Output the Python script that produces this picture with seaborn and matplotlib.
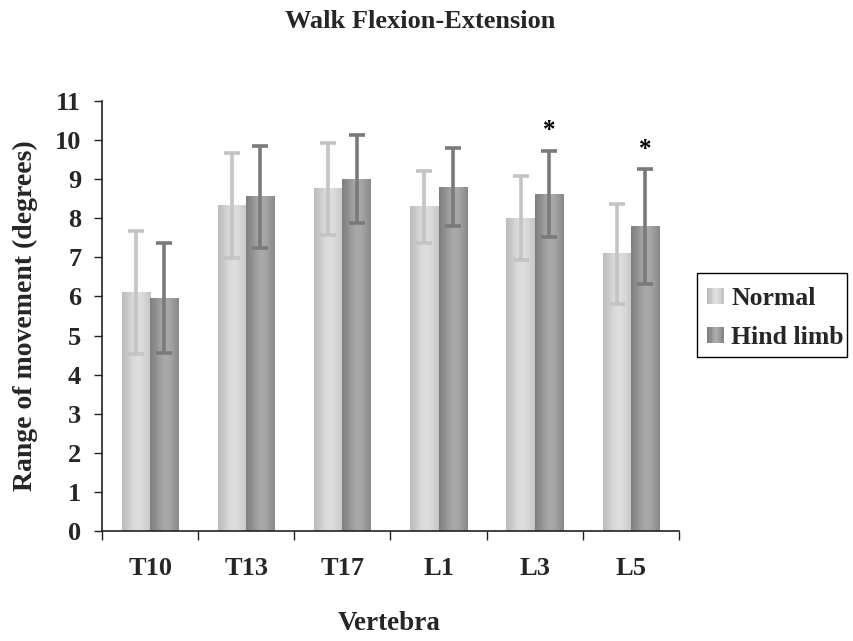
import numpy as np
import pandas as pd
import matplotlib
matplotlib.use("Agg")
import matplotlib.pyplot as plt
import matplotlib.patches as mpatches
from matplotlib.legend_handler import HandlerBase
import seaborn as sns

# Mean range of movement and standard deviation per vertebra
vertebrae = ["T10", "T13", "T17", "L1", "L3", "L5"]
groups = ["Normal", "Hind limb"]
normal_mean = [6.10, 8.33, 8.75, 8.30, 8.00, 7.09]
normal_sd = [1.57, 1.35, 1.18, 0.92, 1.07, 1.28]
hind_mean = [5.96, 8.55, 9.00, 8.80, 8.62, 7.78]
hind_sd = [1.40, 1.30, 1.13, 1.00, 1.10, 1.47]
significant = ["L3", "L5"]  # hind limb vs normal
y_ticks = list(range(0, 12))

sns.set_theme(style="white")
plt.rcParams["font.family"] = ["Liberation Serif", "DejaVu Serif"]
plt.rcParams["font.weight"] = "bold"

df = pd.DataFrame({
    "Vertebra": vertebrae * 2,
    "group": [groups[0]] * len(vertebrae) + [groups[1]] * len(vertebrae),
    "mean": normal_mean + hind_mean,
    "sd": normal_sd + hind_sd,
})

# Horizontal shading profiles for the cylinder-like bars
shade = {
    "Normal": ["#bdbdbd", "#c8c8c8", "#d6d6d6", "#dedede", "#dcdcdc", "#d2d2d2", "#c6c6c6"],
    "Hind limb": ["#7f7f7f", "#8c8c8c", "#9e9e9e", "#aaaaaa", "#a6a6a6", "#999999", "#888888"],
}
err_color = {"Normal": "#c4c4c4", "Hind limb": "#7a7a7a"}

FS = 19

fig = plt.figure(figsize=(8.54, 6.41), dpi=100)
W, H = 854, 641
ax = fig.add_axes([102 / W, 1 - 531 / H, 577 / W, 430 / H])

sns.barplot(data=df, x="Vertebra", y="mean", hue="group", order=vertebrae,
            hue_order=groups, errorbar=None, width=0.59, gap=0,
            palette={g: shade[g][3] for g in groups}, ax=ax, legend=False,
            linewidth=0)

def gradient_image(colors, n=64):
    rgb = np.array([matplotlib.colors.to_rgb(c) for c in colors])
    xs = np.linspace(0, 1, len(colors))
    xi = np.linspace(0, 1, n)
    img = np.stack([np.interp(xi, xs, rgb[:, k]) for k in range(3)], axis=-1)
    return img[np.newaxis, :, :]

bars = [p for p in ax.patches if isinstance(p, mpatches.Rectangle)]
bar_info = []
for i, p in enumerate(bars):
    g = groups[i // len(vertebrae)]
    x0, w, h = p.get_x(), p.get_width(), p.get_height()
    ax.imshow(gradient_image(shade[g]), extent=[x0, x0 + w, 0, h],
              aspect="auto", zorder=2, interpolation="bilinear")
    p.set_visible(False)
    bar_info.append((g, x0 + w / 2))

for gi, g in enumerate(groups):
    sub = df[df["group"] == g]
    xs = [bar_info[gi * len(vertebrae) + k][1] for k in range(len(vertebrae))]
    ax.errorbar(xs, sub["mean"], yerr=sub["sd"], fmt="none",
                ecolor=err_color[g], elinewidth=2.6, capsize=5.5,
                capthick=2.6, zorder=3)
    if g == "Hind limb":
        for k, v in enumerate(vertebrae):
            if v in significant:
                top = sub["mean"].iloc[k] + sub["sd"].iloc[k]
                ax.text(xs[k], top + 0.22, "*", ha="center", va="bottom",
                        fontsize=18, fontweight="bold", color="black")

ax.set_xlim(-0.5, len(vertebrae) - 0.5)
ax.set_ylim(0, 11)
ax.set_yticks(y_ticks)
ax.set_xticks(range(len(vertebrae)))
ax.set_xticks(np.arange(-0.5, len(vertebrae)), minor=True)
ax.tick_params(axis="x", which="major", length=0, pad=19, labelsize=FS)
ax.tick_params(axis="x", which="minor", length=6.5, width=1, color="#222222",
               direction="out", bottom=True)
ax.tick_params(axis="y", length=6, width=1, color="#222222", direction="out",
               left=True, labelsize=FS, pad=9)
for lab in ax.get_xticklabels() + ax.get_yticklabels():
    lab.set_fontweight("bold")

for s in ["top", "right"]:
    ax.spines[s].set_visible(False)
for s in ["left", "bottom"]:
    ax.spines[s].set_color("#222222")
    ax.spines[s].set_linewidth(1.2)

ax.set_xlabel("Vertebra", fontsize=19.5, fontweight="bold", va="center")
ax.xaxis.set_label_coords(0.498, -0.216)
ax.set_ylabel("Range of movement (degrees)", fontsize=20, fontweight="bold",
              va="center")
ax.yaxis.set_label_coords(-0.132, 0.5)

fig.text(0.492, 0.967, "Walk Flexion-Extension", ha="center", va="center",
         fontsize=19, fontweight="bold")


class GradientHandler(HandlerBase):
    def create_artists(self, legend, orig_handle, xdescent, ydescent,
                       width, height, fontsize, trans):
        colors = orig_handle.get_gid()
        size = min(width, height)
        n = len(colors)
        arts = []
        for j, c in enumerate(colors):
            r = mpatches.Rectangle((-xdescent + j * size / n, -ydescent + (height - size) / 2),
                                   size / n + 0.01, size, facecolor=c,
                                   edgecolor="none", transform=trans)
            arts.append(r)
        return arts


handles = []
for g in groups:
    h = mpatches.Patch(label=g)
    h.set_gid(shade[g])
    handles.append(h)

# legend frame drawn separately so its padding can be uneven
fig.patches.append(mpatches.Rectangle((697 / W, 1 - 357 / H), 150 / W, 84 / H,
                                      transform=fig.transFigure, fill=False,
                                      edgecolor="black", linewidth=1.0))
leg = fig.legend(handles=handles, labels=groups, loc="center left",
                 bbox_to_anchor=(707 / W, 1 - 318 / H),
                 handler_map={mpatches.Patch: GradientHandler()},
                 prop={"size": 18.5, "weight": "bold"}, frameon=False,
                 handlelength=0.65, handleheight=0.65, handletextpad=0.3,
                 borderpad=0, labelspacing=0.62, borderaxespad=0)

fig.savefig("out.png", dpi=100)
